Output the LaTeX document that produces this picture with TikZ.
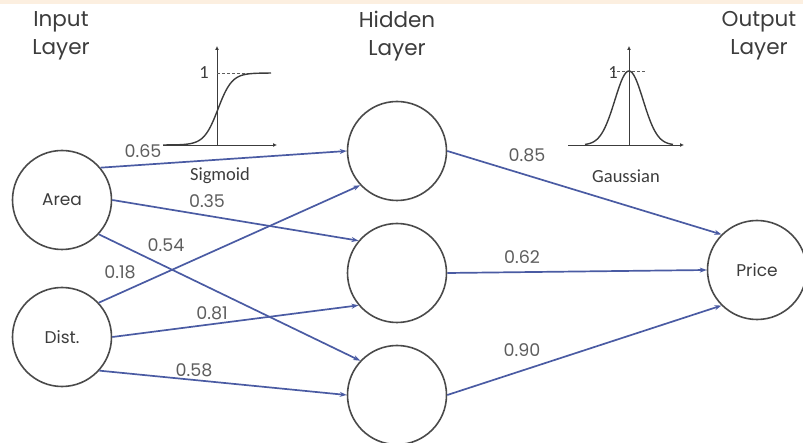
\documentclass[tikz,border=0pt]{standalone}
\usepackage{fontspec}
\setmainfont{Poppins}
\newfontfamily\calib{Carlito}
\usepackage{tikz}
\usetikzlibrary{arrows.meta}
\definecolor{edge}{HTML}{4A5BA3}
\definecolor{ring}{HTML}{4A4A4A}
\definecolor{ink}{HTML}{3C3C3C}
\definecolor{muted}{HTML}{5E5E5E}
\definecolor{band}{HTML}{FCEFE0}
\tikzset{
  neuron/.style={circle, draw=ring, line width=1.6pt, minimum size=99pt, inner sep=0pt, text=ink, font=\fontsize{17}{17}\selectfont},
  conn/.style={-{Stealth[length=7pt,width=5pt]}, line width=1.7pt, draw=edge},
  wlab/.style={text=muted, font=\fontsize{17.5}{17.5}\selectfont},
  head/.style={text=ink, align=center, font=\fontsize{21.5}{28}\selectfont},
  axis/.style={-{Latex[length=4pt,width=4pt]}, line width=0.9pt, draw=ink},
  curve/.style={line width=1.4pt, draw=ink},
  guide/.style={densely dashed, line width=0.4pt, draw=muted},
  flab/.style={text=ink, font=\calib\fontsize{18.5}{18.5}\selectfont}
}

\begin{document}
\begin{tikzpicture}[x=1pt, y=-1pt]
  \useasboundingbox (0,0) rectangle (803,443);
  \fill[band] (0,0) rectangle (803,4);

  % layer titles
  \node[head] (tin)  at (61,36)  {Input\\Layer};
  \node[head] (thid) at (397,36) {Hidden\\Layer};
  \node[head] (tout) at (759,36) {Output\\Layer};

  % neurons
  \node[neuron] (area)  at (62,200)  {Area};
  \node[neuron] (dist)  at (62,337)  {Dist.};
  \node[neuron] (h1)    at (397,151) {};
  \node[neuron] (h2)    at (397,273) {};
  \node[neuron] (h3)    at (397,395) {};
  \node[neuron] (price) at (757,270) {Price};

  % weights
  \draw[conn] (area.40)   -- (h1.west);
  \draw[conn] (area.east) -- (h2.140);
  \draw[conn] (area.-43)  -- (h3.137);
  \draw[conn] (dist.43)   -- (h1.-137);
  \draw[conn] (dist.east) -- (h2.-140);
  \draw[conn] (dist.-42)  -- (h3.west);
  \draw[conn] (h1.east) -- (price.135);
  \draw[conn] (h2.east) -- (price.west);
  \draw[conn] (h3.east) -- (price.-135);

  \node[wlab] (w1) at (143,151) {0.65};
  \node[wlab] (w2) at (207,201) {0.35};
  \node[wlab] (w3) at (166,245) {0.54};
  \node[wlab] (w4) at (120,272) {0.18};
  \node[wlab] (w5) at (212,313) {0.81};
  \node[wlab] (w6) at (194,370) {0.58};
  \node[wlab] (w7) at (527,155) {0.85};
  \node[wlab] (w8) at (522,257) {0.62};
  \node[wlab] (w9) at (522,350) {0.90};

  % sigmoid sketch
  \coordinate (so) at (217,145);
  \draw[axis] (163,145) -- (277,145);
  \draw[axis] (so) -- (217,46);
  \draw[guide] (217,73) -- (252,73);
  \draw[curve] plot[domain=163:271, samples=80] (\x, {145-72/(1+exp(-(\x-218)/7))});
  \node[flab] (one1) at (204,73) {1};
  \node[flab] (sig) at (220,176) {Sigmoid};

  % gaussian sketch
  \coordinate (go) at (629,145);
  \draw[axis] (568,145) -- (684,145);
  \draw[axis] (go) -- (629,46);
  \draw[guide] (612,71) -- (645,71);
  \draw[curve] plot[domain=585:673, samples=80] (\x, {145-74*exp(-((\x-629)/20)^2)});
  \node[flab] (one2) at (613,73) {1};
  \node[flab] (gau) at (626,176) {Gaussian};
\end{tikzpicture}
\end{document}
